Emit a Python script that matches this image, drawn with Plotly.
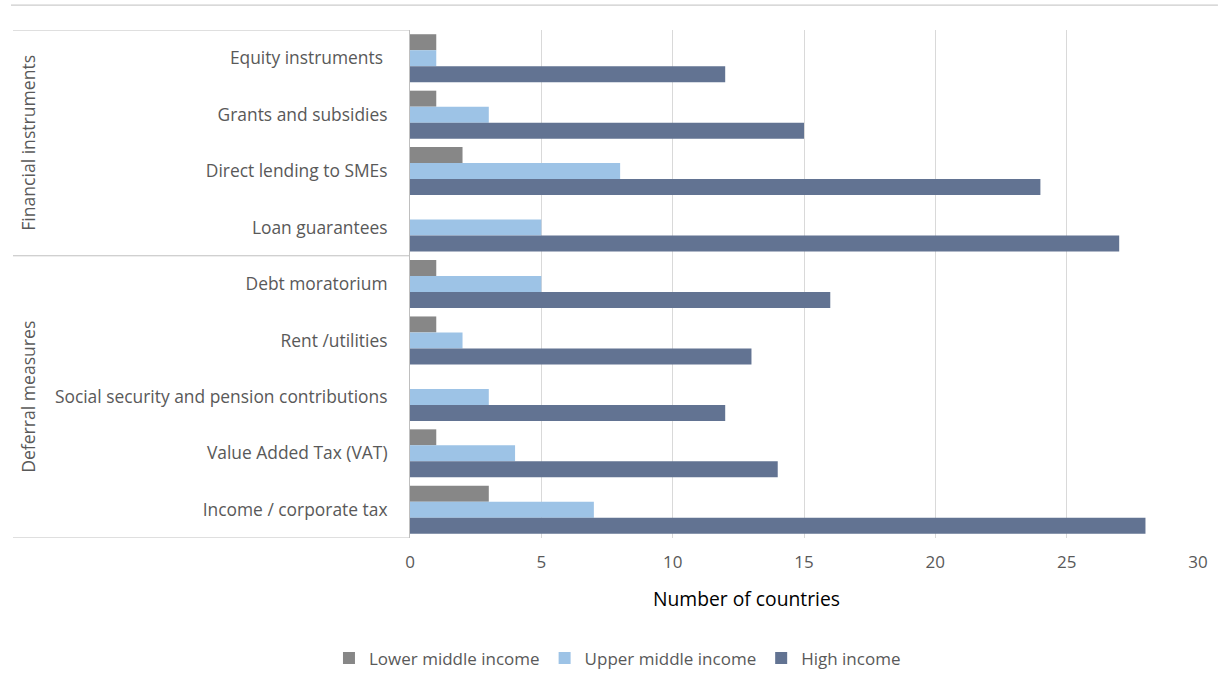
import plotly.graph_objects as go

categories = ["Equity instruments ", "Grants and subsidies", "Direct lending to SMEs", "Loan guarantees",
              "Debt moratorium", "Rent /utilities", "Social security and pension contributions",
              "Value Added Tax (VAT)", "Income / corporate tax"]
lower_middle = [1, 1, 2, 0, 1, 1, 0, 1, 3]
upper_middle = [1, 3, 8, 5, 5, 2, 3, 4, 7]
high_income = [12, 15, 24, 27, 16, 13, 12, 14, 28]
series_names = ["Lower middle income", "Upper middle income", "High income"]
colors = ["#878787", "#9DC3E6", "#627392"]
groups = ["Financial instruments", "Deferral measures"]
x_ticks = [0, 5, 10, 15, 20, 25, 30]
x_title = "Number of countries"

FONT = "Open Sans"
fig = go.Figure()
for name, vals, c in zip(series_names, [lower_middle, upper_middle, high_income], colors):
    fig.add_trace(go.Bar(y=categories, x=vals, name=name, orientation="h",
                         marker=dict(color=c, line=dict(width=0))))

L, R, T, B = 410, 20, 30, 149
W, H = 1220, 689
pw, ph = W - L - R, H - T - B

def px_x(p):
    return (p - L) / pw

def px_y(p):
    return (H - B - p) / ph

fig.update_layout(
    width=W, height=H, barmode="group", bargap=0.15, bargroupgap=0,
    margin=dict(l=L, r=R, t=T, b=B),
    plot_bgcolor="white", paper_bgcolor="white",
    font=dict(family=FONT, size=17, color="#595959"),
    xaxis=dict(range=[0, 30], tickvals=x_ticks, showgrid=True, gridcolor="#D9D9D9", gridwidth=1,
               zeroline=False, showline=False, ticks="", ticklabelstandoff=12,
               tickfont=dict(size=17, color="#595959")),
    yaxis=dict(range=[8.5, -0.5], showgrid=False, zeroline=False, showline=True, linecolor="#BFBFBF",
               linewidth=1, ticks="", ticklabelstandoff=18, tickfont=dict(size=17.4, color="#595959")),
    legend=dict(orientation="h", x=px_x(618), xanchor="center", y=px_y(661), yanchor="middle",
                font=dict(size=17, color="#595959"), traceorder="normal", itemwidth=30),
    showlegend=True,
)

fig.add_annotation(text=x_title, xref="paper", yref="paper", x=px_x(747), y=px_y(601),
                   showarrow=False, font=dict(size=19.3, color="#000000"), xanchor="center", yanchor="middle")

line_style = dict(color="#BFBFBF", width=1)
fig.add_shape(type="line", xref="paper", yref="paper", x0=px_x(10), x1=px_x(1220), y0=px_y(5), y1=px_y(5), line=line_style)
for yv in [-0.5, 3.5, 8.5]:
    fig.add_shape(type="line", xref="paper", yref="y", x0=px_x(12), x1=0, y0=yv, y1=yv, line=line_style)

group_centers = [1.5, 6.0]
for g, yc in zip(groups, group_centers):
    fig.add_annotation(text=g, xref="paper", yref="y", x=px_x(27), y=yc, textangle=-90,
                       showarrow=False, font=dict(size=17.6, color="#595959"), xanchor="center", yanchor="middle")

fig.write_html("out.html")
